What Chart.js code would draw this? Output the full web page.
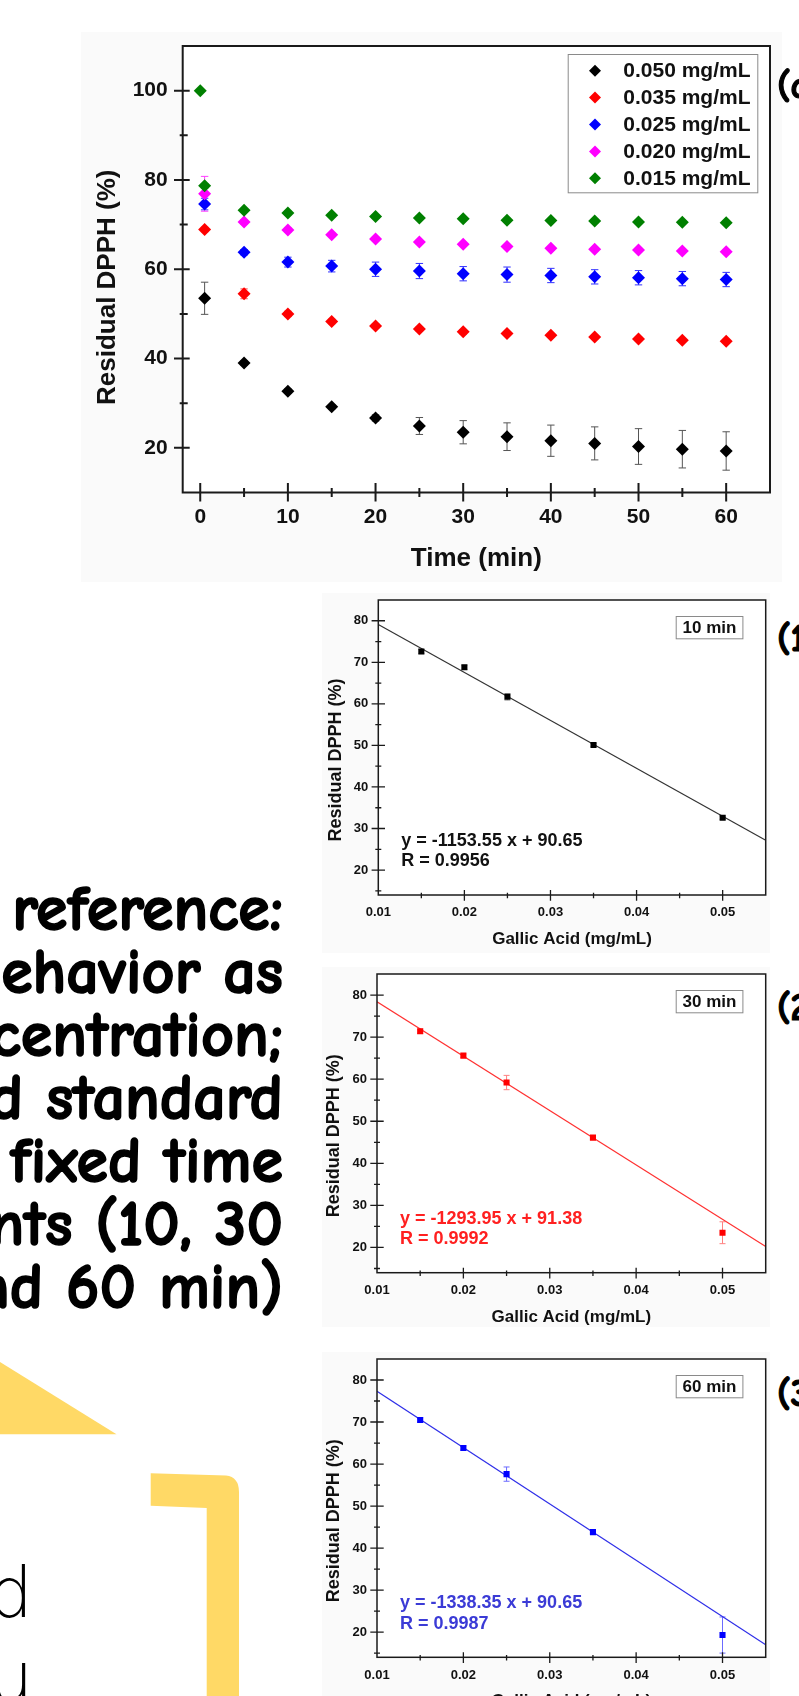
<!DOCTYPE html>
<html>
<head>
<meta charset="utf-8">
<title>Residual DPPH</title>
<script src="https://cdn.jsdelivr.net/npm/chart.js@4.4.1/dist/chart.umd.min.js"></script>
<style>
  html, body { margin: 0; padding: 0; background: #fff; }
  body { position: relative; width: 799px; height: 1696px; overflow: hidden; }
  canvas { position: absolute; background: #fafafa; }
  .note { position: absolute; right: 516px; top: 878px; text-align: right; white-space: nowrap;
          font-family: "Comic Sans MS", "Comic Neue", "Noto Sans", sans-serif; font-weight: 700;
          font-size: 64px; line-height: 63px; color: #000; -webkit-text-stroke: 1.6px #000; }
  .tag { position: absolute; left: 777px; white-space: nowrap;
         font-family: "Comic Sans MS", "Comic Neue", "Noto Sans", sans-serif; font-weight: 700;
         font-size: 38px; line-height: 38px; color: #000; -webkit-text-stroke: 1.2px #000; }
  .hand { position: absolute; right: 766px; white-space: nowrap; text-align: right;
          font-family: "DejaVu Sans", sans-serif; font-weight: 200; font-size: 70px; line-height: 70px; color: #000; }
</style>
</head>
<body>
<svg width="799" height="1696" style="position:absolute;left:0;top:0">
  <polygon points="0,1362 116.5,1434.3 0,1434.3" fill="#ffd966"/>
  <path d="M150.7,1473.3 L226,1475.5 Q239,1477 239,1492 L239,1700 L206.7,1700 L206.7,1508 L150.7,1505.7 Z" fill="#ffd966"/>
</svg>

<div class="note">reference:<br>behavior as<br>concentration;<br>and standard<br>fixed time<br>points (10, 30<br>and 60 min)</div>
<div class="hand" style="top:1558px">d</div>
<div class="hand" style="top:1642px">u</div>

<canvas id="main" width="701" height="550" style="left:81px;top:32px"></canvas>
<canvas id="c10" width="448" height="360" style="left:322px;top:593px"></canvas>
<canvas id="c30" width="448" height="360" style="left:322px;top:967px"></canvas>
<canvas id="c60" width="448" height="360" style="left:322px;top:1352px"></canvas>

<div class="tag" style="top:67px">(a)</div>
<div class="tag" style="top:620px">(1)</div>
<div class="tag" style="top:989px">(2)</div>
<div class="tag" style="top:1375px">(3)</div>

<script>
// ---- main panel: residual DPPH vs time for each gallic acid concentration ----
const times = [0.5, 5, 10, 15, 20, 25, 30, 35, 40, 45, 50, 55, 60];
const times015 = [0, 0.5, 5, 10, 15, 20, 25, 30, 35, 40, 45, 50, 55, 60];
const seriesNames = ['0.050 mg/mL', '0.035 mg/mL', '0.025 mg/mL', '0.020 mg/mL', '0.015 mg/mL'];
const seriesColors = ['#000000', '#ff0000', '#0000ff', '#ff00ff', '#008000'];
const errorColors = ['#555555', '#ff5050', '#3030ff', '#ff40ff', '#2a8a2a'];

const res050 = [53.5, 39.0, 32.7, 29.2, 26.7, 24.9, 23.5, 22.5, 21.6, 21.0, 20.3, 19.7, 19.3];
const err050 = [3.6, 0.5, 0.5, 0.5, 0.7, 1.9, 2.6, 3.1, 3.5, 3.7, 4.0, 4.2, 4.3];
const res035 = [68.9, 54.5, 50.0, 48.3, 47.3, 46.6, 46.0, 45.6, 45.2, 44.8, 44.4, 44.1, 43.9];
const err035 = [0.5, 1.1, 0.6, 0.5, 0.5, 0.5, 0.5, 0.4, 0.4, 0.4, 0.4, 0.4, 0.4];
const res025 = [74.6, 63.8, 61.6, 60.7, 60.0, 59.6, 59.0, 58.8, 58.6, 58.3, 58.1, 57.9, 57.7];
const err025 = [1.3, 0.6, 1.1, 1.3, 1.6, 1.7, 1.6, 1.7, 1.6, 1.6, 1.6, 1.6, 1.6];
const res020 = [76.9, 70.6, 68.8, 67.7, 66.8, 66.1, 65.6, 65.1, 64.7, 64.5, 64.3, 64.1, 63.9];
const err020 = [3.9, 0.5, 0.5, 0.4, 0.4, 0.4, 0.4, 0.4, 0.4, 0.4, 0.4, 0.4, 0.4];
const res015 = [100, 78.7, 73.2, 72.6, 72.1, 71.8, 71.5, 71.3, 71.0, 70.9, 70.8, 70.6, 70.5, 70.4];
const err015 = [0, 0.5, 0.4, 0.4, 0.4, 0.4, 0.4, 0.4, 0.4, 0.4, 0.4, 0.4, 0.4, 0.4];

const timeLabels = [0, 10, 20, 30, 40, 50, 60];
const dpphLabels = [20, 40, 60, 80, 100];

// ---- calibration panels (10, 30, 60 min) ----
const conc = [0.015, 0.020, 0.025, 0.035, 0.050];
const res10 = [72.6, 68.8, 61.7, 50.1, 32.6];
const err10 = [0.5, 0.5, 0.8, 0.4, 0.4];
const res30 = [71.4, 65.6, 59.2, 46.1, 23.5];
const err30 = [0.5, 0.4, 1.7, 0.4, 2.6];
const res60 = [70.5, 63.8, 57.6, 43.8, 19.3];
const err60 = [0.5, 0.5, 1.7, 0.4, 4.3];
const fitX = [0.01, 0.055];
const fit10 = [79.1, 27.2];
const fit30 = [78.4, 20.2];
const fit60 = [77.3, 17.0];
const eq10 = ['y = -1153.55 x + 90.65', 'R = 0.9956'];
const eq30 = ['y = -1293.95 x + 91.38', 'R = 0.9992'];
const eq60 = ['y = -1338.35 x + 90.65', 'R = 0.9987'];
const concLabels = [0.01, 0.02, 0.03, 0.04, 0.05];
const smallYLabels = [20, 30, 40, 50, 60, 70, 80];

const FONT = '"Liberation Sans", Arial, sans-serif';

function pts(xs, ys) {
  return xs.map((x, i) => ({x: x, y: ys[i]}));
}

// draws the white plot area, error bars, frame, in/out ticks, axis titles and extras
function decoPlugin(cfg) {
  return {
    id: 'deco',
    beforeDraw(chart) {
      const a = chart.chartArea, ctx = chart.ctx;
      ctx.save();
      ctx.fillStyle = '#ffffff';
      ctx.fillRect(a.left, a.top, a.right - a.left, a.bottom - a.top);
      ctx.restore();
    },
    beforeDatasetsDraw(chart) {
      const ctx = chart.ctx, xs = chart.scales.x, ys = chart.scales.y;
      chart.data.datasets.forEach((ds, i) => {
        const err = cfg.errors[i];
        if (!err) return;
        ctx.save();
        ctx.strokeStyle = cfg.errColors[i];
        ctx.lineWidth = 1;
        ctx.beginPath();
        ds.data.forEach((p, j) => {
          const e = err[j];
          if (!e) return;
          const x = xs.getPixelForValue(p.x);
          const y1 = ys.getPixelForValue(p.y - e), y2 = ys.getPixelForValue(p.y + e);
          ctx.moveTo(x, y1); ctx.lineTo(x, y2);
          ctx.moveTo(x - cfg.cap, y1); ctx.lineTo(x + cfg.cap, y1);
          ctx.moveTo(x - cfg.cap, y2); ctx.lineTo(x + cfg.cap, y2);
        });
        ctx.stroke();
        ctx.restore();
      });
    },
    afterDatasetsDraw(chart) {
      const a = chart.chartArea, ctx = chart.ctx;
      ctx.save();
      ctx.strokeStyle = '#1a1a1a';
      ctx.lineWidth = cfg.frameWidth;
      ctx.strokeRect(a.left, a.top, a.right - a.left, a.bottom - a.top);

      ctx.lineWidth = cfg.tickWidth;
      ctx.beginPath();
      chart.scales.x.ticks.forEach(t => {
        const p = chart.scales.x.getPixelForValue(t.value);
        if (p < a.left + 1 || p > a.right - 1) return;
        const len = cfg.xMajor(t.value) ? cfg.xTickMajor : cfg.xTickMinor;
        ctx.moveTo(p, a.bottom - len[0]);
        ctx.lineTo(p, a.bottom + len[1]);
      });
      chart.scales.y.ticks.forEach(t => {
        const p = chart.scales.y.getPixelForValue(t.value);
        if (p > a.bottom - 1 || p < a.top + 1) return;
        const len = cfg.yMajor(t.value) ? cfg.yTickMajor : cfg.yTickMinor;
        ctx.moveTo(a.left - len[1], p);
        ctx.lineTo(a.left + len[0], p);
      });
      ctx.stroke();

      ctx.fillStyle = '#111';
      ctx.textAlign = 'center';
      ctx.textBaseline = 'middle';
      ctx.font = 'bold ' + cfg.xTitleSize + 'px ' + FONT;
      ctx.fillText(cfg.xTitle, (a.left + a.right) / 2, a.bottom + cfg.xTitleDy);
      ctx.save();
      ctx.translate(a.left - cfg.yTitleDx, (a.top + a.bottom) / 2 + cfg.yTitleShift);
      ctx.rotate(-Math.PI / 2);
      ctx.font = 'bold ' + cfg.yTitleSize + 'px ' + FONT;
      ctx.fillText(cfg.yTitle, 0, 0);
      ctx.restore();

      if (cfg.extra) cfg.extra(chart, ctx, a);
      ctx.restore();
    }
  };
}

function fixedAxis(size, horizontal) {
  return function(s) {
    if (horizontal) s.height = size; else s.width = size;
    s.paddingTop = 0; s.paddingBottom = 0; s.paddingLeft = 0; s.paddingRight = 0;
  };
}

// main chart
const mainSets = [res050, res035, res025, res020, res015].map((vals, i) => ({
  label: seriesNames[i],
  data: pts(i === 4 ? times015 : times, vals),
  backgroundColor: seriesColors[i],
  borderWidth: 0,
  pointStyle: 'rectRot',
  pointRadius: 6.5,
  order: 4 - i
}));

new Chart(document.getElementById('main'), {
  type: 'scatter',
  data: {datasets: mainSets},
  options: {
    responsive: false,
    animation: false,
    events: [],
    layout: {padding: {top: 14, right: 12, left: 0, bottom: 0}},
    plugins: {legend: {display: false}, tooltip: {enabled: false}},
    scales: {
      x: {
        type: 'linear', min: -2, max: 65,
        grid: {display: false, drawTicks: false}, border: {display: false},
        ticks: {
          stepSize: 5, autoSkip: false, includeBounds: false, maxRotation: 0, padding: 12,
          color: '#111', font: {family: FONT, size: 21, weight: 'bold'},
          callback: v => timeLabels.includes(v) ? String(v) : ''
        },
        afterFit: fixedAxis(89.5, true)
      },
      y: {
        type: 'linear', min: 10, max: 110,
        grid: {display: false, drawTicks: false}, border: {display: false},
        ticks: {
          stepSize: 10, includeBounds: false, padding: 15,
          color: '#111', font: {family: FONT, size: 21, weight: 'bold'},
          callback: v => dpphLabels.includes(v) ? String(v) : ''
        },
        afterFit: fixedAxis(101.7, false)
      }
    }
  },
  plugins: [decoPlugin({
    errors: [err050, err035, err025, err020, err015],
    errColors: errorColors,
    cap: 3.7,
    frameWidth: 2, tickWidth: 2,
    xMajor: v => v % 10 === 0, yMajor: v => v % 20 === 0,
    xTickMajor: [9.4, 9], xTickMinor: [4.5, 4.5],
    yTickMajor: [7, 8.7], yTickMinor: [5, 3],
    xTitle: 'Time (min)', xTitleSize: 26, xTitleDy: 66,
    yTitle: 'Residual DPPH (%)', yTitleSize: 26, yTitleDx: 75, yTitleShift: 18,
    extra(chart, ctx, a) {
      const bx = a.right - 202.3, by = a.top + 8;
      ctx.fillStyle = '#ffffff';
      ctx.fillRect(bx, by, 189.6, 138.3);
      ctx.strokeStyle = '#8a8a8a';
      ctx.lineWidth = 1;
      ctx.strokeRect(bx + 0.5, by + 0.5, 189.6, 138.3);
      ctx.font = 'bold 21px ' + FONT;
      ctx.textAlign = 'left';
      ctx.textBaseline = 'middle';
      chart.data.datasets.forEach((ds, i) => {
        const cy = a.top + 24.7 + i * 26.9, cx = a.right - 175;
        ctx.fillStyle = ds.backgroundColor;
        ctx.beginPath();
        ctx.moveTo(cx - 6, cy); ctx.lineTo(cx, cy - 6); ctx.lineTo(cx + 6, cy); ctx.lineTo(cx, cy + 6);
        ctx.closePath();
        ctx.fill();
        ctx.fillStyle = '#111';
        ctx.fillText(ds.label, a.right - 146.7, cy + 1);
      });
    }
  })]
});

// calibration charts
function smallChart(id, vals, errs, fitVals, color, lineColor, errColor, eqColor, eqLines, boxLabel, yWidth, xHeight) {
  new Chart(document.getElementById(id), {
    type: 'scatter',
    data: {
      datasets: [
        {data: pts(conc, vals), backgroundColor: color, borderWidth: 0, pointStyle: 'rect', pointRadius: 4.3},
        {data: pts(fitX, fitVals), showLine: true, borderColor: lineColor, borderWidth: 1.2, pointRadius: 0, fill: false}
      ]
    },
    options: {
      responsive: false,
      animation: false,
      events: [],
      layout: {padding: {top: 7, right: 1.7, left: 0, bottom: 0}},
      plugins: {legend: {display: false}, tooltip: {enabled: false}},
      scales: {
        x: {
          type: 'linear', min: 0.01, max: 0.055,
          grid: {display: false, drawTicks: false}, border: {display: false},
          ticks: {
            stepSize: 0.005, autoSkip: false, includeBounds: false, maxRotation: 0, padding: 10,
            color: '#111', font: {family: FONT, size: 13, weight: 'bold'},
            callback: v => {
              const hit = concLabels.find(c => Math.abs(c - v) < 1e-9);
              return hit === undefined ? '' : hit.toFixed(2);
            }
          },
          afterFit: fixedAxis(xHeight, true)
        },
        y: {
          type: 'linear', min: 14, max: 85,
          grid: {display: false, drawTicks: false}, border: {display: false},
          ticks: {
            stepSize: 5, includeBounds: false, padding: 10,
            color: '#111', font: {family: FONT, size: 13, weight: 'bold'},
            callback: v => smallYLabels.includes(v) ? String(v) : ''
          },
          afterFit: fixedAxis(yWidth, false)
        }
      }
    },
    plugins: [decoPlugin({
      errors: [errs, null],
      errColors: [errColor, null],
      cap: 3,
      frameWidth: 1.5, tickWidth: 1.3,
      xMajor: v => Math.round(v * 1000) % 10 === 0, yMajor: v => v % 10 === 0,
      xTickMajor: [5, 5.7], xTickMinor: [2.3, 3.3],
      yTickMajor: [6.7, 6.7], yTickMinor: [3, 3],
      xTitle: 'Gallic Acid (mg/mL)', xTitleSize: 17, xTitleDy: 44.3,
      yTitle: 'Residual DPPH (%)', yTitleSize: 18, yTitleDx: 42.6, yTitleShift: 12.5,
      extra(chart, ctx, a) {
        const bx = a.right - 90, by = a.top + 16;
        ctx.fillStyle = '#ffffff';
        ctx.fillRect(bx, by, 66.7, 22.3);
        ctx.strokeStyle = '#8a8a8a';
        ctx.lineWidth = 1;
        ctx.strokeRect(bx + 0.5, by + 0.5, 66.7, 22.3);
        ctx.fillStyle = '#111';
        ctx.font = 'bold 17px ' + FONT;
        ctx.textAlign = 'center';
        ctx.textBaseline = 'middle';
        ctx.fillText(boxLabel, bx + 33.8, by + 12);
        ctx.fillStyle = eqColor;
        ctx.font = 'bold 18px ' + FONT;
        ctx.textAlign = 'left';
        ctx.fillText(eqLines[0], a.left + 23, a.bottom - 54);
        ctx.fillText(eqLines[1], a.left + 23, a.bottom - 33.5);
      }
    })]
  });
}

smallChart('c10', res10, err10, fit10, '#000000', '#333333', '#999999', '#111111', eq10, '10 min', 56.3, 58);
smallChart('c30', res30, err30, fit30, '#ff0000', '#ff3030', '#ff8080', '#ff2020', eq30, '30 min', 55, 54.3);
smallChart('c60', res60, err60, fit60, '#0000ff', '#2f2fe8', '#6b6bff', '#3b3bd6', eq60, '60 min', 55, 54.7);
</script>
</body>
</html>
